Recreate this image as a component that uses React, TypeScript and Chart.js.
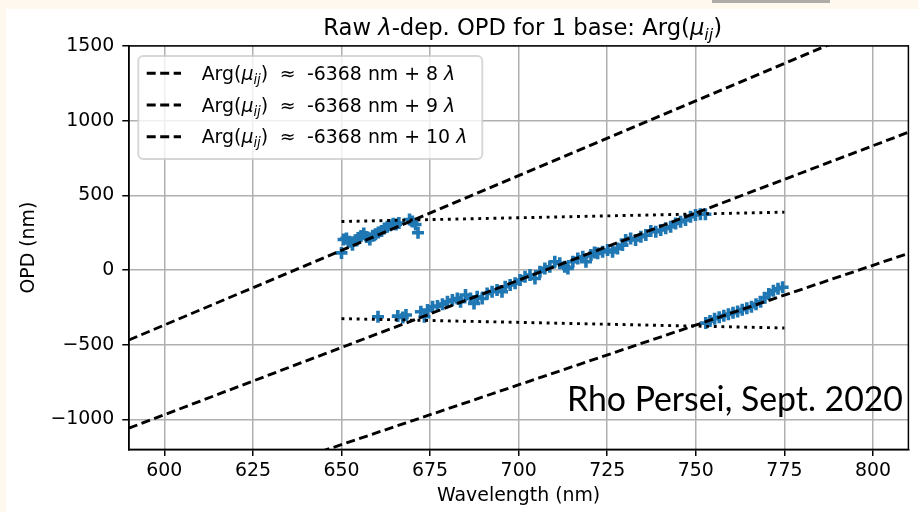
import React, { useEffect, useRef } from "react";
import { Chart, registerables } from "chart.js";

Chart.register(...registerables);

// ---------- data ----------
const xTicks = [600, 625, 650, 675, 700, 725, 750, 775, 800];
const yTicks = [-1000, -500, 0, 500, 1000, 1500];

// fringe model lines (endpoints at the axis limits)
const lineWl = [590, 810];
const line8Opd = [-1648, 112];
const line9Opd = [-1058, 922];
const line10Opd = [-468, 1732];
const legendOrders = ["8", "9", "10"];

// +/- lambda/2 bounds
const boundWl = [650, 775];
const upperBound = [325, 387.5];
const lowerBound = [-325, -387.5];

// measured raw OPD points
const segAWl = [650.0, 650.6, 651.4, 652.3, 653.1, 653.9, 654.7, 655.5, 656.3, 657.1, 658.0, 658.8, 659.6, 660.4, 661.3, 662.1, 662.9, 663.7, 664.6, 665.4, 666.2, 669.2, 670.0, 670.9, 671.6];
const segAOpd = [115, 205, 212, 190, 170, 200, 215, 228, 245, 222, 205, 230, 240, 252, 262, 278, 290, 300, 310, 305, 315, 338, 325, 305, 250];

const segBWl = [660.3, 665.9, 667.3, 668.2, 672.4, 673.4, 674.3, 675.7, 677.1, 678.5, 679.9, 681.3, 682.7, 683.6, 685.0, 686.4, 687.4, 688.3, 689.7, 691.1, 692.5, 693.9, 695.3, 696.2, 697.6, 699.0, 700.4, 701.8, 703.2, 704.6, 706.0, 707.4, 708.8, 710.2, 711.6, 713.0, 713.9, 715.3, 716.7, 718.1, 719.0, 720.4, 721.4, 722.3, 723.7, 725.1, 726.5, 727.9, 729.3, 730.2, 731.6, 733.0, 734.5, 735.9, 737.3, 738.7, 740.1, 741.5, 742.9, 744.3, 745.7, 747.1, 748.5, 749.9, 751.3, 752.7];
const segBOpd = [-312, -308, -317, -301, -279, -312, -268, -245, -241, -228, -212, -201, -190, -212, -167, -190, -223, -179, -190, -156, -145, -134, -145, -112, -100, -89, -67, -45, -33, -56, -11, 11, 22, 56, 45, 22, 11, 56, 78, 89, 56, 100, 118, 112, 122, 134, 122, 145, 167, 201, 212, 201, 223, 234, 261, 256, 268, 279, 290, 312, 323, 335, 357, 368, 373, 373];

const segCWl = [752.8, 754.0, 755.3, 756.6, 757.9, 759.2, 760.5, 761.8, 763.1, 764.4, 765.7, 767.0, 768.3, 769.4, 770.6, 771.9, 773.2, 774.5];
const segCOpd = [-355, -340, -325, -315, -305, -295, -285, -278, -265, -255, -245, -228, -212, -185, -160, -138, -125, -115];

// ---------- helpers ----------
const FONT = '"DejaVu Sans", sans-serif';
const BASE = 18.9;

type Piece = { t: string; it?: boolean; sub?: boolean; pad?: number };

function pieceFont(p: Piece, size: number) {
  const s = p.sub ? size * 0.7 : size;
  return `${p.it ? "italic " : ""}${s}px ${FONT}`;
}
function measureRich(ctx: CanvasRenderingContext2D, pieces: Piece[], size: number) {
  let w = 0;
  for (const p of pieces) {
    ctx.font = pieceFont(p, size);
    w += (p.pad || 0) + ctx.measureText(p.t).width;
  }
  return w;
}
function drawRich(ctx: CanvasRenderingContext2D, pieces: Piece[], x: number, y: number, size: number) {
  let cx = x;
  ctx.textBaseline = "alphabetic";
  ctx.textAlign = "left";
  for (const p of pieces) {
    cx += p.pad || 0;
    ctx.font = pieceFont(p, size);
    ctx.fillText(p.t, cx, y + (p.sub ? size * 0.22 : 0));
    cx += ctx.measureText(p.t).width;
  }
}

const toPts = (xs: number[], ys: number[]) => xs.map((x, i) => ({ x, y: ys[i] }));
const fmt = (v: number) => (v < 0 ? "\u2212" + Math.abs(v) : String(v));

const bgPlugin = {
  id: "bg",
  beforeDraw(chart: any) {
    const ctx = chart.ctx as CanvasRenderingContext2D;
    ctx.save();
    ctx.fillStyle = "rgb(254,248,238)";
    ctx.fillRect(0, 0, chart.width, chart.height);
    ctx.fillStyle = "#ffffff";
    ctx.fillRect(6, 9, chart.width - 6, chart.height - 9);
    ctx.fillStyle = "rgba(140,140,140,0.7)";
    ctx.fillRect(712, 0, 118, 3);
    ctx.restore();
  },
};

const decorPlugin = {
  id: "decor",
  afterDraw(chart: any) {
    const ctx = chart.ctx as CanvasRenderingContext2D;
    const a = chart.chartArea;
    ctx.save();
    // spines
    ctx.strokeStyle = "#000";
    ctx.lineWidth = 1.5;
    ctx.strokeRect(a.left, a.top, a.right - a.left, a.bottom - a.top);

    // title
    ctx.fillStyle = "#000";
    const titleSize = 22.7;
    const title: Piece[] = [
      { t: "Raw " },
      { t: "\u03bb", it: true },
      { t: "-dep. OPD for 1 base: Arg(" },
      { t: "\u03bc", it: true },
      { t: "ij", it: true, sub: true },
      { t: ")" },
    ];
    const tw = measureRich(ctx, title, titleSize);
    drawRich(ctx, title, (a.left + a.right) / 2 + 4 - tw / 2, 35, titleSize);

    // legend
    const bx = 138.3, by = 56, bw = 344, bh = 103;
    ctx.beginPath();
    (ctx as any).roundRect(bx, by, bw, bh, 5);
    ctx.fillStyle = "rgba(255,255,255,0.8)";
    ctx.fill();
    ctx.strokeStyle = "rgba(204,204,204,0.8)";
    ctx.lineWidth = 1.9;
    ctx.stroke();
    const rows = [73.3, 105, 136.7];
    legendOrders.forEach((k, i) => {
      const y = rows[i];
      ctx.save();
      ctx.strokeStyle = "#000";
      ctx.lineWidth = 2.9;
      ctx.setLineDash([9, 4.5]);
      ctx.beginPath();
      ctx.moveTo(146.7, y);
      ctx.lineTo(181, y);
      ctx.stroke();
      ctx.restore();
      ctx.fillStyle = "#000";
      const pieces: Piece[] = [
        { t: "Arg(" },
        { t: "\u03bc", it: true },
        { t: "ij", it: true, sub: true },
        { t: ")" },
        { t: "\u2248", pad: 11.5 },
        { t: "-6368 nm + " + k + " ", pad: 11.5 },
        { t: "\u03bb", it: true },
      ];
      drawRich(ctx, pieces, 201.7, y + 6.5, BASE);
    });

    // annotation
    const ann = "Rho Persei, Sept. 2020";
    ctx.fillStyle = "#000";
    ctx.textBaseline = "alphabetic";
    ctx.textAlign = "left";
    ctx.font = `31px Lato, "Open Sans", sans-serif`;
    const w = ctx.measureText(ann).width;
    const fs = 31 * (336 / w);
    ctx.font = `${fs}px Lato, "Open Sans", sans-serif`;
    ctx.fillText(ann, 567, 411);
    ctx.restore();
  },
};

export default function App() {
  const ref = useRef<HTMLCanvasElement | null>(null);

  useEffect(() => {
    if (!ref.current) return;
    const dashed = (opd: number[], label: string) => ({
      type: "line" as const,
      label,
      data: toPts(lineWl, opd),
      borderColor: "#000",
      borderWidth: 2.9,
      borderDash: [9, 4.5],
      pointRadius: 0,
      fill: false,
      tension: 0,
      clip: 0,
    });
    const dotted = (opd: number[]) => ({
      type: "line" as const,
      data: toPts(boundWl, opd),
      borderColor: "#000",
      borderWidth: 2.9,
      borderDash: [2.9, 4.7],
      pointRadius: 0,
      fill: false,
      tension: 0,
      clip: 0,
    });
    const chart = new Chart(ref.current, {
      type: "scatter",
      data: {
        datasets: [
          dashed(line8Opd, "8"),
          dashed(line9Opd, "9"),
          dashed(line10Opd, "10"),
          dotted(upperBound),
          dotted(lowerBound),
          {
            type: "scatter",
            data: [...toPts(segAWl, segAOpd), ...toPts(segBWl, segBOpd), ...toPts(segCWl, segCOpd)],
            pointStyle: "cross",
            pointRadius: 6,
            pointBorderWidth: 3.6,
            pointBorderColor: "#1f77b4",
            pointBackgroundColor: "#1f77b4",
            showLine: false,
          } as any,
        ],
      },
      options: {
        animation: false,
        responsive: false,
        devicePixelRatio: 1,
        events: [],
        layout: { padding: { left: 0, right: 3.3, top: 45.9, bottom: 0 } },
        plugins: {
          legend: { display: false },
          tooltip: { enabled: false },
          title: { display: false },
        },
        scales: {
          x: {
            type: "linear",
            min: 590,
            max: 810,
            afterBuildTicks: (s: any) => {
              s.ticks = xTicks.map((v) => ({ value: v }));
            },
            afterFit: (s: any) => {
              s.height = 512 - 449.4;
            },
            ticks: {
              font: { family: FONT, size: BASE },
              color: "#000",
              padding: 4,
              autoSkip: false,
              maxRotation: 0,
              callback: (v: any) => fmt(Number(v)),
            },
            grid: { color: "#b0b0b0", lineWidth: 1.5, tickColor: "#000", tickLength: 6.6, tickWidth: 1.5 },
            border: { color: "#000", width: 1.5 },
            title: {
              display: true,
              text: "Wavelength (nm)",
              font: { family: FONT, size: BASE },
              color: "#000",
              padding: { top: 0, bottom: 4.7 },
            },
          },
          y: {
            type: "linear",
            min: -1200,
            max: 1500,
            afterBuildTicks: (s: any) => {
              s.ticks = yTicks.map((v) => ({ value: v }));
            },
            afterFit: (s: any) => {
              s.width = 128.9;
            },
            ticks: {
              font: { family: FONT, size: BASE },
              color: "#000",
              padding: 8,
              autoSkip: false,
              callback: (v: any) => fmt(Number(v)),
            },
            grid: { color: "#b0b0b0", lineWidth: 1.5, tickColor: "#000", tickLength: 6.6, tickWidth: 1.5 },
            border: { color: "#000", width: 1.5 },
            title: {
              display: true,
              text: "OPD (nm)",
              font: { family: FONT, size: BASE },
              color: "#000",
              padding: { top: 17.7, bottom: 0 },
            },
          },
        },
      } as any,
      plugins: [bgPlugin, decorPlugin],
    });
    return () => chart.destroy();
  }, []);

  return (
    <div style={{ position: "fixed", left: 0, top: 0, width: 918, height: 512 }}>
      <canvas ref={ref} width={918} height={512} style={{ display: "block", width: 918, height: 512 }} />
    </div>
  );
}
